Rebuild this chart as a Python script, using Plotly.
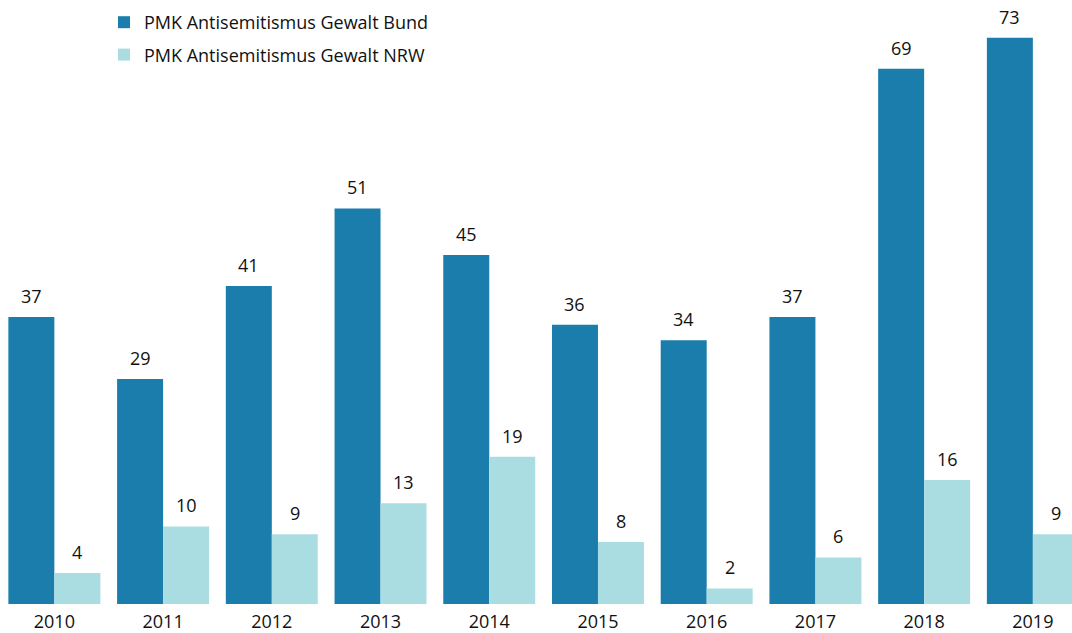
import plotly.graph_objects as go

years = ["2010", "2011", "2012", "2013", "2014", "2015", "2016", "2017", "2018", "2019"]
bund = [37, 29, 41, 51, 45, 36, 34, 37, 69, 73]
nrw = [4, 10, 9, 13, 19, 8, 2, 6, 16, 9]

name_bund = "PMK Antisemitismus Gewalt Bund"
name_nrw = "PMK Antisemitismus Gewalt NRW"
col_bund = "#1a7dab"
col_nrw = "#aadde2"
font_family = "Open Sans, Arial, sans-serif"
text_col = "#111111"

fig = go.Figure()
fig.add_trace(go.Bar(x=years, y=bund, name=name_bund, marker_color=col_bund,
                     marker_line_width=0, legendgroup="a"))
fig.add_trace(go.Bar(x=years, y=nrw, name=name_nrw, marker_color=col_nrw,
                     marker_line_width=0, legendgroup="b"))

# value labels above each bar (category axes place annotations by index)
annotations = []
for i, (b, n) in enumerate(zip(bund, nrw)):
    for val, shift in ((b, -23), (n, 23)):
        annotations.append(dict(x=i, y=val, xref="x", yref="y", text=str(val),
                                showarrow=False, xshift=shift, yshift=7,
                                yanchor="bottom", xanchor="center",
                                font=dict(size=18, color=text_col, family=font_family,
                                          weight=500)))

fig.update_layout(
    width=1072, height=633,
    margin=dict(l=0, r=0, t=4, b=26),
    plot_bgcolor="white", paper_bgcolor="white",
    barmode="group", bargap=0.154, bargroupgap=0,
    font=dict(family=font_family, size=18, color=text_col, weight=500),
    xaxis=dict(type="category", range=[-0.5, 9.36], showgrid=False, showline=False,
               ticks="", ticklabelstandoff=5,
               tickfont=dict(size=18, color=text_col, weight=500)),
    yaxis=dict(range=[0, 77.36], visible=False, showgrid=False, zeroline=False),
    legend=dict(x=0.097, y=1.0, xanchor="left", yanchor="top",
                bgcolor="rgba(0,0,0,0)", tracegroupgap=6,
                font=dict(size=18, color=text_col, family=font_family, weight=500)),
    annotations=annotations,
)

fig.write_html("out.html")
